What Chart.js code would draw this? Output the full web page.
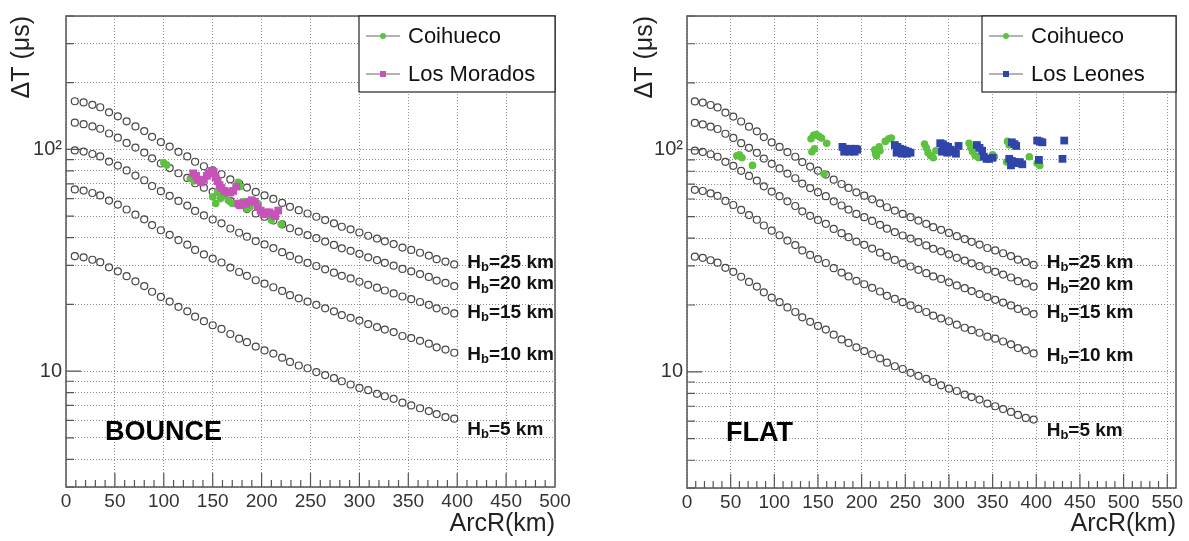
<!DOCTYPE html>
<html>
<head>
<meta charset="utf-8">
<script src="https://cdn.jsdelivr.net/npm/chart.js@4/dist/chart.umd.min.js"></script>
<style>
  body { margin: 0; background: #fff; }
  .painel { position: absolute; top: 0; height: 541px; }
  #p1 { left: 0; width: 590px; }
  #p2 { left: 590px; width: 599px; }
</style>
</head>
<body>
<div class="painel" id="p1"><canvas id="bounceChart"></canvas></div>
<div class="painel" id="p2"><canvas id="flatChart"></canvas></div>
<script>
// Curvas teóricas: ArcR (km) e ΔT (µs) para cada altura Hb
const arcR = [9,18,27,35,44,53,62,71,80,88,97,106,115,124,132,141,150,159,168,177,185,194,203,212,221,229,238,247,256,265,274,282,291,300,309,318,326,335,344,353,362,371,379,388,397];
const hb25 = [165,163,159,155,147,141,134,127,121,114,108,103,97.6,93,88,84,80.5,77.3,73.3,70.1,67.3,64.3,62.1,59.8,57.4,55.1,53.2,51.4,49.7,48,46.4,44.8,43.6,42.2,40.8,39.6,38.5,37.4,36.1,35.2,34.2,33.2,32,31.2,30.3];
const hb20 = [132,130,127,124,118,113,107,102,96.8,91.2,86.4,82.4,78.1,74.4,70.4,67.2,64.4,61.8,58.6,56.1,53.8,51.4,49.7,47.8,45.9,44.1,42.6,41.1,39.8,38.4,37.1,35.8,34.9,33.8,32.6,31.7,30.8,29.9,28.9,28.2,27.4,26.6,25.6,25,24.2];
const hb15 = [99,97.8,95.4,93,88.2,84.6,80.4,76.2,72.6,68.4,64.8,61.8,58.6,55.8,52.8,50.4,48.3,46.4,44,42.1,40.4,38.6,37.3,35.9,34.4,33.1,31.9,30.8,29.8,28.8,27.8,26.9,26.2,25.3,24.5,23.8,23.1,22.4,21.7,21.1,20.5,19.9,19.2,18.7,18.2];
const hb10 = [66,65.2,63.6,62,58.8,56.4,53.6,50.8,48.4,45.6,43.2,41.2,39,37.2,35.2,33.6,32.2,30.9,29.3,28,26.9,25.7,24.8,23.9,23,22,21.3,20.6,19.9,19.2,18.6,17.9,17.4,16.9,16.3,15.8,15.4,15,14.4,14.1,13.7,13.3,12.8,12.5,12.1];
const hb5 = [33,32.6,31.8,31,29.4,28.2,26.8,25.4,24.2,22.8,21.6,20.6,19.5,18.6,17.6,16.8,16.1,15.5,14.7,14,13.5,12.9,12.4,12,11.5,11,10.6,10.3,9.9,9.6,9.3,9,8.7,8.4,8.2,7.9,7.7,7.5,7.2,7,6.8,6.6,6.4,6.2,6.1];
const hbHeights = ['25', '20', '15', '10', '5'];

// Eventos BOUNCE
const coihuecoBounceR = [100,103,127,131,150,153,155,158,162,166,170,176,178,181,185,188,196,205,210,214,220];
const coihuecoBounceDT = [87,85,74,72,61,57,64,60,62,59,57,71,68,58,54,55,57,51,48,50,46];
const moradosR = [130,133,135,138,141,144,146,149,151,153,155,157,159,162,165,168,171,174,176,178,181,184,187,190,193,196,199,202,205,208,211,214,217];
const moradosDT = [78,76,73,71,73,76,78,80,79,75,72,69,67,65,64,64,65,68,57,56,57,57,58,59,58,55,53,51,52,52,51,50,53];

// Eventos FLAT
const coihuecoFlatR = [57,60,63,75,142,145,148,151,154,143,146,160,157,215,216,217,218,220,221,227,231,234,272,274,276,279,282,285,323,325,327,330,334,350,352,367,369,366,371,392,401,404,404];
const coihuecoFlatDT = [94,95,92,85,112,116,117,115,113,98,101,107,78,100,96,94,98,103,99,109,112,113,106,102,97,94,92,99,107,102,98,94,92,95,93,109,105,88,86,93,87,108,85];
const leonesR = [178,181,184,187,190,193,195,180,186,192,238,241,244,247,250,253,256,240,246,252,290,293,296,299,302,305,308,292,298,311,332,335,338,340,343,346,350,372,375,377,369,372,375,378,381,384,371,401,404,407,403,432,430];
const leonesDT = [103,101,100,101,100,101,100,98,98,98,105,103,101,100,99,98,97,97,96,96,107,106,104,103,100,98,96,98,97,104,105,102,99,93,91,91,92,108,106,104,91,89,88,87,88,86,85,110,109,108,90,110,91];

// Eixos
const yGrid = [3,4,5,6,7,8,9,10,20,30,40,50,60,70,80,90,100,200,300,400];
const xTicksBounce = [0,50,100,150,200,250,300,350,400,450,500];
const xTicksFlat = [0,50,100,150,200,250,300,350,400,450,500,550];

const FONT = '"Liberation Sans", Arial, Helvetica, sans-serif';
const GREEN = '#5cc23f';
const MAGENTA = '#c653b8';
const BLUE = '#2f45aa';
const CURVE = '#474747';

function pontos(xs, ys) {
  return xs.map(function(x, i) { return { x: x, y: ys[i] }; });
}

// Moldura, marcas internas, rótulos Hb, legenda
const molduraPlugin = {
  id: 'moldura',
  afterDatasetsDraw(chart, args, opts) {
    const ctx = chart.ctx;
    const a = chart.chartArea;
    const xs = chart.scales.x;
    const ys = chart.scales.y;
    ctx.save();

    ctx.strokeStyle = '#555';
    ctx.lineWidth = 1.5;
    ctx.strokeRect(a.left, a.top, a.right - a.left, a.bottom - a.top);

    ctx.lineWidth = 1.2;
    ctx.beginPath();
    for (let v = 10; v < xs.max; v += 10) {
      const px = xs.getPixelForValue(v);
      const len = v % 50 === 0 ? 14 : 7;
      ctx.moveTo(px, a.bottom);
      ctx.lineTo(px, a.bottom - len);
    }
    yGrid.forEach(function(v) {
      const py = ys.getPixelForValue(v);
      const len = (v === 10 || v === 100) ? 15 : 8;
      ctx.moveTo(a.left, py);
      ctx.lineTo(a.left + len, py);
    });
    ctx.stroke();

    // rótulos H_b no fim de cada curva
    ctx.fillStyle = '#111';
    ctx.textBaseline = 'middle';
    ctx.textAlign = 'left';
    const dy = [-2, -2, -1, 2, 11];
    hbHeights.forEach(function(h, i) {
      const meta = chart.getDatasetMeta(2 + i);
      const last = meta.data[meta.data.length - 1];
      let x = last.x + 13;
      const y = last.y + dy[i];
      ctx.font = 'bold 19px ' + FONT;
      ctx.fillText('H', x, y);
      x += ctx.measureText('H').width;
      ctx.font = 'bold 13px ' + FONT;
      ctx.fillText('b', x, y + 5);
      x += ctx.measureText('b').width;
      ctx.font = 'bold 19px ' + FONT;
      ctx.fillText('=' + h + ' km', x, y);
    });

    // BOUNCE / FLAT
    ctx.font = 'bold 27px ' + FONT;
    ctx.fillStyle = '#000';
    ctx.fillText(opts.caso, a.left + 39, a.bottom - 54);

    // legenda
    const bw = opts.legendaLargura;
    const bh = 76;
    const bx = a.right - bw;
    const by = a.top;
    ctx.fillStyle = '#fff';
    ctx.fillRect(bx, by, bw, bh);
    ctx.strokeStyle = '#222';
    ctx.lineWidth = 1.2;
    ctx.strokeRect(bx, by, bw, bh);
    opts.itens.forEach(function(it, i) {
      const y = by + 20 + i * 38;
      ctx.strokeStyle = '#666';
      ctx.lineWidth = 1;
      ctx.beginPath();
      ctx.moveTo(bx + 7, y);
      ctx.lineTo(bx + 41, y);
      ctx.stroke();
      ctx.fillStyle = it.cor;
      if (it.forma === 'circle') {
        ctx.beginPath();
        ctx.arc(bx + 24, y, 3, 0, Math.PI * 2);
        ctx.fill();
      } else {
        ctx.fillRect(bx + 21, y - 3, 6, 6);
      }
      ctx.fillStyle = '#111';
      ctx.font = '22px ' + FONT;
      ctx.fillText(it.nome, bx + 49, y + 1);
    });
    ctx.restore();
  }
};

function curvas() {
  return [hb25, hb20, hb15, hb10, hb5].map(function(serie) {
    return {
      data: pontos(arcR, serie),
      pointStyle: 'circle',
      pointRadius: 3.5,
      borderColor: CURVE,
      backgroundColor: 'rgba(0,0,0,0)',
      pointBorderWidth: 1.2
    };
  });
}

function criaGrafico(id, cfg) {
  const ctx = document.getElementById(id).getContext('2d');
  return new Chart(ctx, {
    type: 'scatter',
    data: {
      datasets: [
        {
          data: cfg.estacao2,
          pointStyle: 'rect',
          pointRadius: 5.5,
          borderWidth: 0,
          backgroundColor: cfg.cor2,
          borderColor: cfg.cor2
        },
        {
          data: cfg.estacao1,
          pointStyle: 'circle',
          pointRadius: 3.8,
          borderWidth: 0,
          backgroundColor: GREEN,
          borderColor: GREEN
        }
      ].concat(curvas())
    },
    options: {
      responsive: true,
      maintainAspectRatio: false,
      animation: false,
      layout: { padding: cfg.padding },
      plugins: {
        legend: { display: false },
        tooltip: { enabled: false },
        moldura: {
          caso: cfg.caso,
          legendaLargura: cfg.legendaLargura,
          itens: [
            { nome: 'Coihueco', cor: GREEN, forma: 'circle' },
            { nome: cfg.nome2, cor: cfg.cor2, forma: 'rect' }
          ]
        }
      },
      scales: {
        x: {
          type: 'linear',
          min: 0,
          max: cfg.xMax,
          afterBuildTicks: function(s) { s.ticks = cfg.xTicks.map(function(v) { return { value: v }; }); },
          afterFit: function(s) { s.height = cfg.alturaX; },
          grid: { color: '#8f8f8f', lineWidth: 1, drawTicks: false },
          border: { display: false, dash: [1, 2] },
          ticks: { color: '#333', font: { size: 19, family: FONT }, padding: 3, maxRotation: 0, autoSkip: false },
          title: { display: true, text: 'ArcR(km)', align: 'end', color: '#222', font: { size: 25, family: FONT }, padding: { top: 0, bottom: 2 } }
        },
        y: {
          type: 'logarithmic',
          min: 3,
          max: 400,
          afterBuildTicks: function(s) { s.ticks = yGrid.map(function(v) { return { value: v }; }); },
          afterFit: function(s) { s.width = cfg.larguraY; },
          grid: { color: '#8f8f8f', lineWidth: 1, drawTicks: false },
          border: { display: false, dash: [1, 2] },
          ticks: {
            color: '#333',
            font: { size: 20, family: FONT },
            padding: 4,
            autoSkip: false,
            callback: function(v) { return v === 10 ? '10' : (v === 100 ? '10²' : ''); }
          },
          title: { display: true, text: 'ΔT (μs)', align: 'end', color: '#222', font: { size: 25, family: FONT }, padding: { top: cfg.tituloY, bottom: 0 } }
        }
      }
    },
    plugins: [molduraPlugin]
  });
}

criaGrafico('bounceChart', {
  caso: 'BOUNCE',
  nome2: 'Los Morados',
  cor2: MAGENTA,
  estacao1: pontos(coihuecoBounceR, coihuecoBounceDT),
  estacao2: pontos(moradosR, moradosDT),
  xMax: 500,
  xTicks: xTicksBounce,
  padding: { top: 14, right: 35, left: 0, bottom: 0 },
  larguraY: 66,
  alturaX: 54,
  tituloY: 7,
  legendaLargura: 196
});

criaGrafico('flatChart', {
  caso: 'FLAT',
  nome2: 'Los Leones',
  cor2: BLUE,
  estacao1: pontos(coihuecoFlatR, coihuecoFlatDT),
  estacao2: pontos(leonesR, leonesDT),
  xMax: 560,
  xTicks: xTicksFlat,
  padding: { top: 13, right: 13, left: 0, bottom: 0 },
  larguraY: 97,
  alturaX: 53,
  tituloY: 40,
  legendaLargura: 194
});
</script>
</body>
</html>
